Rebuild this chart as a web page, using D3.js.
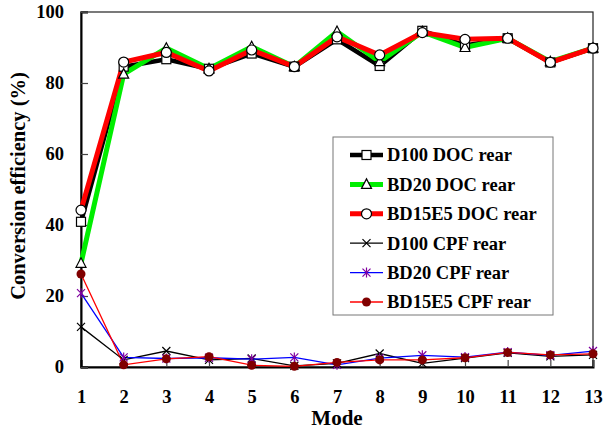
<!DOCTYPE html>
<html>
<head>
<meta charset="utf-8">
<script src="https://cdn.jsdelivr.net/npm/d3@7"></script>
<style>
  body { margin: 0; background: #fff; }
  svg { display: block; }
  text { font-family: "Liberation Serif", "Times New Roman", serif; font-weight: bold; fill: #000; }
</style>
</head>
<body>
<svg id="chart" width="604" height="432"></svg>
<script>
// Conversion efficiency per test mode
const modes = [1, 2, 3, 4, 5, 6, 7, 8, 9, 10, 11, 12, 13];
const yTicks = [0, 20, 40, 60, 80, 100];

const d100Doc   = [40.9, 84.6, 86.7, 84.0, 88.3, 84.6, 92.3, 84.8, 94.7, 90.6, 92.6, 85.8, 89.8];
const bd20Doc   = [29.2, 82.5, 89.8, 84.0, 90.2, 84.6, 94.5, 86.0, 94.4, 90.0, 92.6, 86.0, 89.8];
const bd15e5Doc = [44.2, 85.9, 88.6, 83.4, 89.3, 84.6, 93.0, 87.9, 94.2, 92.3, 92.6, 85.8, 89.8];
const d100Cpf   = [11.3, 2.0, 4.5, 2.0, 2.4, 0.3, 1.0, 3.8, 1.0, 2.5, 4.0, 3.0, 3.4];
const bd20Cpf   = [20.8, 2.7, 2.4, 2.6, 2.2, 2.7, 0.6, 2.5, 3.3, 2.8, 4.2, 3.3, 4.5];
const bd15e5Cpf = [26.2, 0.6, 2.3, 2.9, 0.5, 0.2, 1.3, 2.0, 2.0, 2.6, 4.1, 3.4, 3.7];

const series = [
  { name: "D100 DOC rear",   values: d100Doc,   line: "#000000", width: 4.5, marker: "square" },
  { name: "BD20 DOC rear",   values: bd20Doc,   line: "#00ee00", width: 5,   marker: "triangle" },
  { name: "BD15E5 DOC rear", values: bd15e5Doc, line: "#ff0000", width: 5,   marker: "circle" },
  { name: "D100 CPF rear",   values: d100Cpf,   line: "#000000", width: 1.3, marker: "cross" },
  { name: "BD20 CPF rear",   values: bd20Cpf,   line: "#0000ff", width: 1.3, marker: "star" },
  { name: "BD15E5 CPF rear", values: bd15e5Cpf, line: "#ff0000", width: 1.3, marker: "dot" }
];

const svg = d3.select("#chart");
const plotLeft = 81, plotRight = 593, plotTop = 12, plotBottom = 367;

const x = d3.scaleLinear().domain([1, 13]).range([plotLeft, plotRight]);
const y = d3.scaleLinear().domain([0, 100]).range([plotBottom, plotTop]);

// frame
svg.append("rect")
  .attr("x", plotLeft).attr("y", plotTop)
  .attr("width", plotRight - plotLeft).attr("height", plotBottom - plotTop)
  .attr("fill", "none").attr("stroke", "#222").attr("stroke-width", 1.2);

// axes with inward ticks
const xAxis = svg.append("g").attr("transform", `translate(0,${plotBottom})`)
  .call(d3.axisBottom(x).tickValues(modes).tickSize(-7).tickPadding(23).tickFormat(d3.format("d")));
const yAxis = svg.append("g").attr("transform", `translate(${plotLeft},0)`)
  .call(d3.axisLeft(y).tickValues(yTicks).tickSize(-7).tickPadding(17));
[xAxis, yAxis].forEach(g => {
  g.attr("font-family", null).attr("font-size", null);
  g.select(".domain").attr("stroke", "#000").attr("stroke-width", 2);
  g.selectAll(".tick line").attr("stroke", "#444").attr("stroke-width", 1.2);
  g.selectAll(".tick text").style("font-size", "18.5px");
});

// axis titles
svg.append("text")
  .attr("x", 337).attr("y", 425)
  .attr("text-anchor", "middle")
  .style("font-size", "21px")
  .text("Mode");
svg.append("text")
  .attr("transform", `translate(25,186) rotate(-90)`)
  .attr("text-anchor", "middle")
  .style("font-size", "20.5px")
  .text("Conversion efficiency (%)");

// marker drawing
function drawMarker(g, type, cx, cy) {
  switch (type) {
    case "square":
      g.append("rect").attr("x", cx - 4.5).attr("y", cy - 4.5).attr("width", 9).attr("height", 9)
        .attr("fill", "#fff").attr("stroke", "#000").attr("stroke-width", 1.2);
      break;
    case "triangle":
      g.append("path").attr("d", `M${cx},${cy - 5.5}L${cx + 5},${cy + 4}L${cx - 5},${cy + 4}Z`)
        .attr("fill", "#fff").attr("stroke", "#000").attr("stroke-width", 1.2);
      break;
    case "circle":
      g.append("circle").attr("cx", cx).attr("cy", cy).attr("r", 5)
        .attr("fill", "#fff").attr("stroke", "#000").attr("stroke-width", 1.2);
      break;
    case "cross":
      g.append("path").attr("d", `M${cx - 4},${cy - 4}L${cx + 4},${cy + 4}M${cx - 4},${cy + 4}L${cx + 4},${cy - 4}`)
        .attr("stroke", "#000").attr("stroke-width", 1.2);
      break;
    case "star":
      g.append("path").attr("d", `M${cx - 4},${cy - 4}L${cx + 4},${cy + 4}M${cx - 4},${cy + 4}L${cx + 4},${cy - 4}M${cx},${cy - 5}L${cx},${cy + 5}`)
        .attr("stroke", "#8000a0").attr("stroke-width", 1.2);
      break;
    case "dot":
      g.append("circle").attr("cx", cx).attr("cy", cy).attr("r", 4.5).attr("fill", "#800000");
      break;
  }
}

const line = d3.line().x((d, i) => x(modes[i])).y(d => y(d));

// CPF lines beneath, DOC lines on top
const order = [3, 4, 5, 0, 1, 2];
order.forEach(k => {
  const s = series[k];
  svg.append("path").datum(s.values)
    .attr("d", line)
    .attr("fill", "none")
    .attr("stroke", s.line)
    .attr("stroke-width", s.width)
    .attr("stroke-linejoin", "miter");
});
order.forEach(k => {
  const s = series[k];
  const g = svg.append("g");
  s.values.forEach((v, i) => drawMarker(g, s.marker, x(modes[i]), y(v)));
});

// legend
const legend = svg.append("g");
legend.append("rect")
  .attr("x", 333).attr("y", 137).attr("width", 220).attr("height", 178)
  .attr("fill", "#fff").attr("stroke", "#777").attr("stroke-width", 1);
series.forEach((s, i) => {
  const ly = 155 + i * 29.4;
  legend.append("line")
    .attr("x1", 350).attr("x2", 383).attr("y1", ly).attr("y2", ly)
    .attr("stroke", s.line).attr("stroke-width", s.width);
  drawMarker(legend, s.marker, 366.5, ly);
  legend.append("text")
    .attr("x", 387).attr("y", ly).attr("dy", "0.35em")
    .style("font-size", "18.5px")
    .text(s.name);
});
</script>
</body>
</html>
